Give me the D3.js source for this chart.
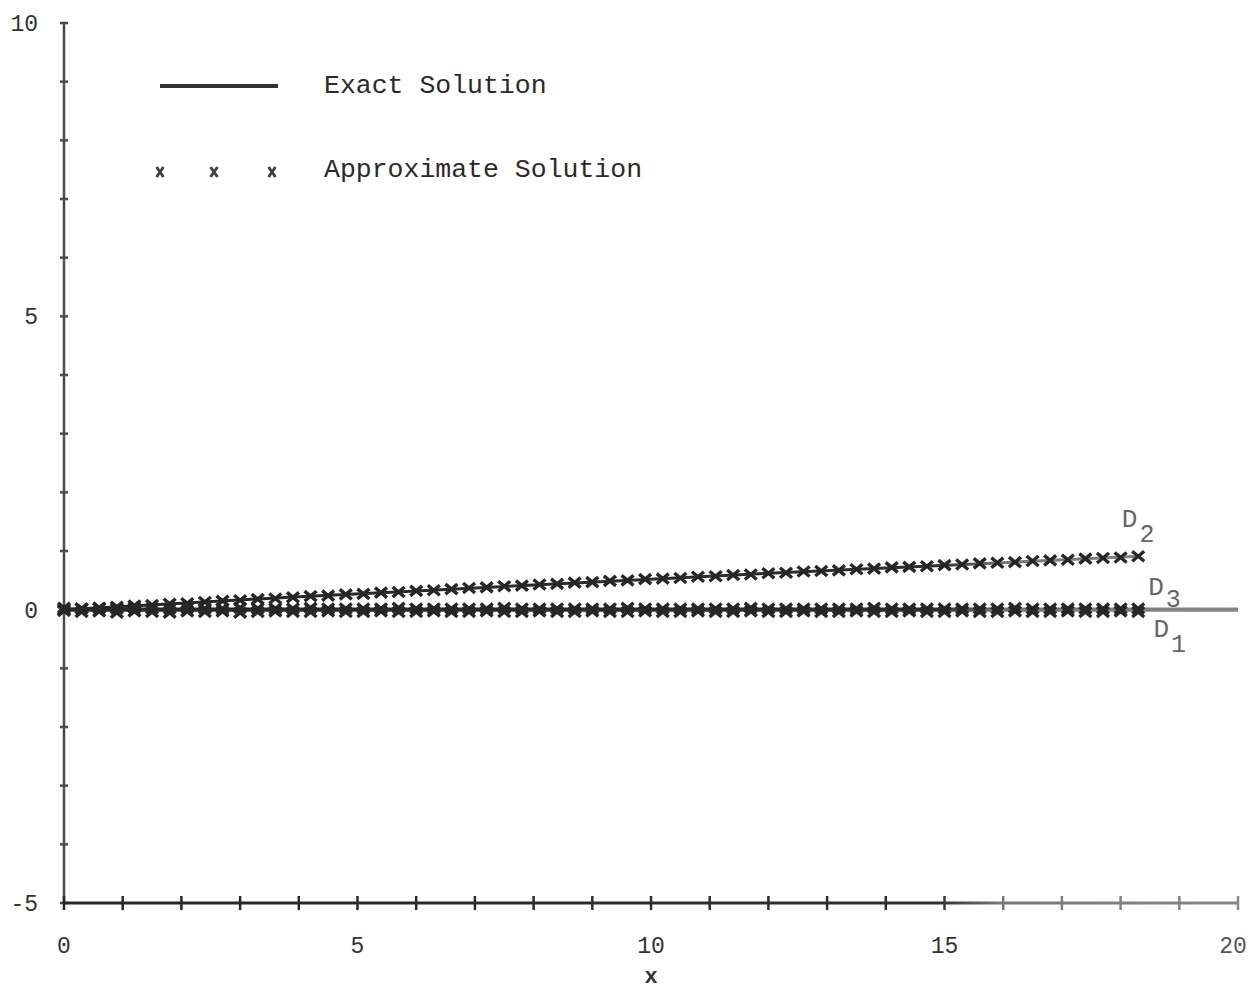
<!DOCTYPE html>
<html>
<head>
<meta charset="utf-8">
<script src="https://cdn.jsdelivr.net/npm/d3@7/dist/d3.min.js"></script>
<style>
  html, body { margin: 0; padding: 0; background: #fff; }
  svg { display: block; }
  text { font-family: "Liberation Mono", "DejaVu Sans Mono", monospace; }
</style>
</head>
<body>
<svg id="chart" width="1249" height="990"></svg>
<script>
// Sample points of the approximate solution (step 0.3)
const xs = [0, 0.3, 0.6, 0.9, 1.2, 1.5, 1.8, 2.1, 2.4, 2.7, 3.0, 3.3, 3.6, 3.9, 4.2, 4.5,
  4.8, 5.1, 5.4, 5.7, 6.0, 6.3, 6.6, 6.9, 7.2, 7.5, 7.8, 8.1, 8.4, 8.7, 9.0, 9.3, 9.6,
  9.9, 10.2, 10.5, 10.8, 11.1, 11.4, 11.7, 12.0, 12.3, 12.6, 12.9, 13.2, 13.5, 13.8,
  14.1, 14.4, 14.7, 15.0, 15.3, 15.6, 15.9, 16.2, 16.5, 16.8, 17.1, 17.4, 17.7, 18.0, 18.3];

const approxD2 = [0, 0.02, 0.03, 0.05, 0.07, 0.08, 0.10, 0.11, 0.13, 0.15, 0.16, 0.18,
  0.19, 0.21, 0.23, 0.24, 0.26, 0.27, 0.29, 0.30, 0.32, 0.33, 0.35, 0.37, 0.38, 0.40,
  0.41, 0.43, 0.44, 0.46, 0.47, 0.49, 0.50, 0.52, 0.53, 0.54, 0.56, 0.57, 0.59, 0.60,
  0.62, 0.63, 0.65, 0.66, 0.67, 0.69, 0.70, 0.72, 0.73, 0.74, 0.76, 0.77, 0.79, 0.80,
  0.81, 0.83, 0.84, 0.85, 0.87, 0.88, 0.89, 0.91];

const approxD3 = [0.03, 0.02, 0.03, 0.02, 0.03, 0.02, 0.02, 0.03, 0.02, 0.02, 0.03, 0.02,
  0.02, 0.02, 0.03, 0.02, 0.02, 0.02, 0.02, 0.03, 0.02, 0.02, 0.02, 0.02, 0.02, 0.03,
  0.02, 0.02, 0.02, 0.02, 0.02, 0.02, 0.03, 0.02, 0.02, 0.02, 0.02, 0.02, 0.02, 0.03,
  0.02, 0.02, 0.02, 0.02, 0.02, 0.02, 0.03, 0.02, 0.02, 0.02, 0.02, 0.02, 0.02, 0.02,
  0.03, 0.02, 0.02, 0.02, 0.02, 0.02, 0.02, 0.02];

const approxD1 = [-0.02, -0.04, -0.03, -0.05, -0.03, -0.04, -0.05, -0.03, -0.04, -0.03,
  -0.05, -0.04, -0.03, -0.04, -0.04, -0.03, -0.04, -0.04, -0.03, -0.04, -0.04, -0.03,
  -0.04, -0.04, -0.03, -0.04, -0.04, -0.03, -0.04, -0.04, -0.03, -0.04, -0.04, -0.03,
  -0.04, -0.04, -0.03, -0.04, -0.04, -0.03, -0.04, -0.04, -0.03, -0.04, -0.04, -0.03,
  -0.04, -0.04, -0.03, -0.04, -0.04, -0.03, -0.04, -0.04, -0.03, -0.04, -0.04, -0.03,
  -0.04, -0.04, -0.03, -0.04];

// Exact solution curves
const exactX2 = [0, 2, 4, 6, 8, 10, 12, 14, 16, 18.3];
const exactD2 = [0, 0.11, 0.22, 0.32, 0.42, 0.52, 0.62, 0.71, 0.80, 0.91];
const exactX13 = [0, 5, 10, 15, 20];
const exactD3 = [0.01, 0.01, 0.01, 0.01, 0.01];
const exactD1 = [-0.01, -0.01, -0.01, -0.01, -0.01];

// Axis ticks and labels
const xTicks = d3.range(0, 21, 1);
const yTicks = d3.range(-5, 11, 1);
const labelledTicks = [-5, 0, 5, 10, 15, 20];
const legendLabels = ["Exact Solution", "Approximate Solution"];
const curveNames = [
  { base: "D", sub: "2", x: 18.02, y: 1.41, dy: 15 },
  { base: "D", sub: "3", x: 18.47, y: 0.25, dy: 12 },
  { base: "D", sub: "1", x: 18.56, y: -0.47, dy: 15 }
];

const svg = d3.select("#chart");
const x = d3.scaleLinear().domain([0, 20]).range([64, 1238]);
const y = d3.scaleLinear().domain([-5, 10]).range([903, 23]);

// Ink fades toward the right side of the sheet
const defs = svg.append("defs");
const grad = defs.append("linearGradient")
  .attr("id", "ink").attr("gradientUnits", "userSpaceOnUse")
  .attr("x1", 0).attr("y1", 0).attr("x2", 1249).attr("y2", 0);
grad.append("stop").attr("offset", "0%").attr("stop-color", "#262626");
grad.append("stop").attr("offset", "75%").attr("stop-color", "#2e2e2e");
grad.append("stop").attr("offset", "80%").attr("stop-color", "#777");
grad.append("stop").attr("offset", "100%").attr("stop-color", "#888");
const ink = "url(#ink)";

// Y axis
svg.append("line")
  .attr("x1", x(0)).attr("x2", x(0))
  .attr("y1", y(10)).attr("y2", y(-5))
  .attr("stroke", "#4a4a4a").attr("stroke-width", 2.5);
svg.append("g").selectAll("line").data(yTicks).join("line")
  .attr("x1", x(0) - 4).attr("x2", x(0) + 4)
  .attr("y1", d => y(d)).attr("y2", d => y(d))
  .attr("stroke", "#4a4a4a").attr("stroke-width", 2.5);
svg.append("g").selectAll("text").data(labelledTicks.filter(d => d <= 10)).join("text")
  .attr("x", 38).attr("y", d => y(d)).attr("dy", "0.35em")
  .attr("text-anchor", "end")
  .attr("font-size", 23).attr("fill", "#333")
  .text(d => String(d));

// X axis
svg.append("line")
  .attr("x1", x(0)).attr("x2", x(20))
  .attr("y1", y(-5)).attr("y2", y(-5))
  .attr("stroke", ink).attr("stroke-width", 3);
svg.append("g").selectAll("line").data(xTicks).join("line")
  .attr("x1", d => x(d)).attr("x2", d => x(d))
  .attr("y1", y(-5) - 7).attr("y2", y(-5) + 7)
  .attr("stroke", ink).attr("stroke-width", 2.5);
svg.append("g").selectAll("text").data(labelledTicks.filter(d => d >= 0)).join("text")
  .attr("x", d => d === 20 ? x(d) - 5 : x(d)).attr("y", 953)
  .attr("text-anchor", "middle")
  .attr("font-size", 23).attr("fill", d => d === 20 ? "#555" : "#333")
  .text(d => String(d));
svg.append("text")
  .attr("x", x(10)).attr("y", 983)
  .attr("text-anchor", "middle")
  .attr("font-size", 22).attr("font-weight", "bold").attr("fill", "#333")
  .text("x");

// Exact solution lines
const line = d3.line().x(d => x(d[0])).y(d => y(d[1]));
const exactSeries = [
  d3.zip(exactX2, exactD2),
  d3.zip(exactX13, exactD3),
  d3.zip(exactX13, exactD1)
];
svg.append("g").selectAll("path").data(exactSeries).join("path")
  .attr("d", line)
  .attr("fill", "none")
  .attr("stroke", ink).attr("stroke-width", 3);

// Approximate solution markers (bow-tie crosses)
const cross = "M-6,-5L6,5M-6,5L6,-5";
const approxSeries = [approxD1, approxD3, approxD2];
approxSeries.forEach(vals => {
  svg.append("g").selectAll("path").data(d3.zip(xs, vals)).join("path")
    .attr("transform", d => `translate(${x(d[0])},${y(d[1])})`)
    .attr("d", cross)
    .attr("fill", "none")
    .attr("stroke", ink).attr("stroke-width", 3.4);
});

// Curve names
curveNames.forEach(c => {
  const t = svg.append("text")
    .attr("x", x(c.x)).attr("y", y(c.y))
    .attr("font-size", 26).attr("fill", "#666");
  t.append("tspan").text(c.base);
  t.append("tspan").attr("dx", 2).attr("dy", c.dy).attr("font-size", 25).text(c.sub);
});

// Legend
svg.append("line")
  .attr("x1", 160).attr("x2", 278).attr("y1", 86).attr("y2", 86)
  .attr("stroke", "#333").attr("stroke-width", 4);
svg.append("g").selectAll("path").data([160, 214, 272]).join("path")
  .attr("transform", d => `translate(${d},172)`)
  .attr("d", "M-3.5,-5L3.5,5M-3.5,5L3.5,-5")
  .attr("fill", "none").attr("stroke", "#444").attr("stroke-width", 3);
svg.append("g").selectAll("text").data(legendLabels).join("text")
  .attr("x", 324).attr("y", (d, i) => i === 0 ? 93 : 177)
  .attr("font-size", 26.5).attr("fill", "#2a2a2a")
  .text(d => d);
</script>
</body>
</html>
